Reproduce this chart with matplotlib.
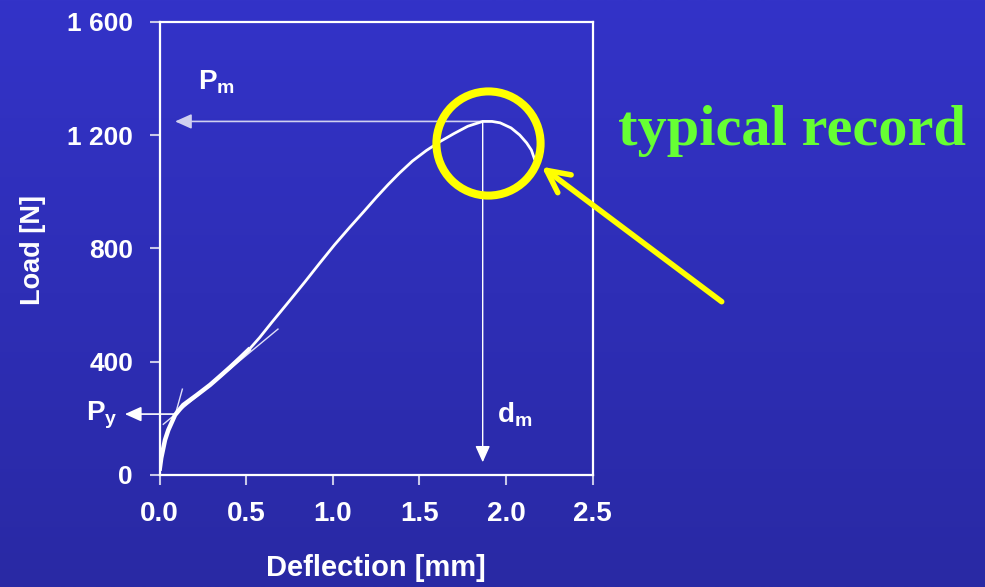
import numpy as np
import matplotlib
matplotlib.use("Agg")
import matplotlib.pyplot as plt

plt.rcParams["font.family"] = ["Liberation Sans", "DejaVu Sans"]
plt.rcParams["font.weight"] = "bold"
plt.rcParams["mathtext.fontset"] = "custom"
plt.rcParams["mathtext.rm"] = "Liberation Sans:bold"
plt.rcParams["mathtext.bf"] = "Liberation Sans:bold"
plt.rcParams["mathtext.it"] = "Liberation Sans:bold"

# load-deflection record
deflection = [0.0, 0.01, 0.032, 0.051, 0.09, 0.137, 0.215, 0.292, 0.35, 0.407,
              0.465, 0.523, 0.578, 0.65, 0.751, 0.84, 0.924, 1.01, 1.098, 1.18,
              1.252, 1.32, 1.386, 1.46, 1.54, 1.62, 1.70, 1.78, 1.866, 1.92,
              1.967, 2.03, 2.08, 2.12, 2.147, 2.166]
load = [15, 60, 124, 159, 212, 247, 282, 318, 349, 380,
        413, 447, 485, 540, 615, 682, 747, 812, 874, 930,
        980, 1025, 1066, 1108, 1145, 1177, 1205, 1231, 1248, 1248,
        1243, 1225, 1200, 1172, 1147, 1114]

# construction lines for the yield point
steep_x = [0.085, 0.132]
steep_y = [200, 303]
secant_x = [0.022, 0.684]
secant_y = [179, 515]
yield_defl = 0.095
yield_load = 215

xticks = [0.0, 0.5, 1.0, 1.5, 2.0, 2.5]
xtick_labels = ["0.0", "0.5", "1.0", "1.5", "2.0", "2.5"]
yticks = [0, 400, 800, 1200, 1600]
ytick_labels = ["0", "400", "800", "1 200", "1 600"]

W, H = 985, 587
fig = plt.figure(figsize=(W / 100, H / 100), dpi=100)

# gradient background
bg = fig.add_axes([0, 0, 1, 1], zorder=-10)
grad = np.linspace(0, 1, 256).reshape(-1, 1)
top = np.array([0x33, 0x33, 0xc8]) / 255
bot = np.array([0x29, 0x29, 0xa4]) / 255
img = top[None, None, :] * (1 - grad[:, :, None]) + bot[None, None, :] * grad[:, :, None]
bg.imshow(img, aspect="auto", extent=[0, 1, 0, 1])
bg.axis("off")

ax = fig.add_axes([159.5 / W, 1 - 475 / H, 433 / W, 453.3 / H])
ax.set_facecolor("none")

ax.plot(deflection, load, color="white", lw=2.0, solid_capstyle="round",
        solid_joinstyle="round", zorder=5)
# the lower part of the record is drawn heavier
n_low = 12
ax.plot(deflection[:n_low], load[:n_low], color="white", lw=3.2,
        solid_capstyle="butt", solid_joinstyle="round", zorder=5)
ax.plot(steep_x, steep_y, color="#e0e0f8", lw=1.0, zorder=4)
ax.plot(secant_x, secant_y, color="#e0e0f8", lw=1.0, zorder=4)

ax.set_xlim(0, 2.5)
ax.set_ylim(0, 1600)
ax.set_xticks(xticks)
ax.set_xticklabels(xtick_labels)
ax.set_yticks(yticks)
ax.set_yticklabels(ytick_labels)
ax.tick_params(axis="both", colors="#c8c8e8", length=7, width=1.5,
               labelcolor="white", labelsize=19)
ax.tick_params(axis="x", labelsize=20, pad=12)
ax.tick_params(axis="y", pad=12)
for s in ax.spines.values():
    s.set_color("white")
    s.set_linewidth(1.6)

ax.set_xlabel("Deflection [mm]", color="white", fontsize=21, fontweight="bold")
ax.set_ylabel("Load [N]", color="white", fontsize=19.5, fontweight="bold")
ax.xaxis.set_label_coords(0.5, -0.205)
ax.xaxis.label.set_va("center")
ax.yaxis.set_label_coords(-0.292, 0.496)
ax.yaxis.label.set_va("center")
ax.yaxis.label.set_ha("center")

# annotations: Pm, dm, Py
i_peak = int(np.argmax(load))
peak_defl = deflection[i_peak]
peak_load = load[i_peak]

arrow_kw = dict(arrowstyle="-|>,head_length=1.0,head_width=0.45",
                mutation_scale=10, shrinkA=0, shrinkB=0)
ax.annotate("", xy=(0.09, peak_load), xytext=(peak_defl, peak_load),
            arrowprops=dict(color="#d0d0f0", lw=1.2, **arrow_kw))
ax.annotate("", xy=(peak_defl, 45), xytext=(peak_defl, peak_load),
            arrowprops=dict(color="white", lw=1.0, **arrow_kw))
ax.annotate("", xy=(-0.2, yield_load), xytext=(yield_defl, yield_load),
            arrowprops=dict(color="white", lw=1.2, **arrow_kw),
            annotation_clip=False)

ax.text(0.222, 1359, r"$\mathbf{P_m}$", color="white", fontsize=20, va="baseline")
ax.text(1.95, 187, r"$\mathbf{d_m}$", color="white", fontsize=20, va="baseline")
ax.text(-0.425, 194, r"$\mathbf{P_y}$", color="white", fontsize=20, va="baseline",
        clip_on=False)

# yellow highlight circle and arrow
ax.plot([peak_defl + 0.028], [peak_load - 77], marker="o", ms=75, mfc="none",
        mec="#ffff00", mew=5.8, clip_on=False, zorder=6)
fig.add_artist(matplotlib.patches.FancyArrowPatch(
    (721.7 / W, 1 - 301.7 / H), (541.7 / W, 1 - 166.7 / H),
    transform=fig.transFigure, arrowstyle="->,head_length=0.8,head_width=0.4",
    mutation_scale=20, color="#ffff00", lw=4, shrinkA=0, shrinkB=0,
    capstyle="round", joinstyle="round"))

fig.text(792 / W, 1 - 145 / H, "typical record", color="#66ff33",
         fontsize=42, fontweight="bold", family="Liberation Serif",
         ha="center", va="baseline")

fig.savefig("out.png", dpi=100)
